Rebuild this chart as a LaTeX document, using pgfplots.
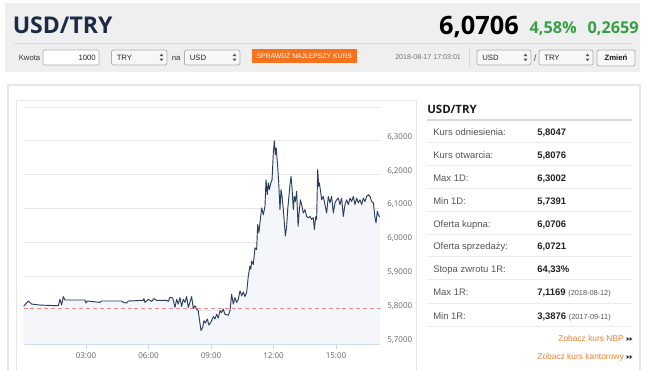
\documentclass[border=0pt]{standalone}
\usepackage{pgfplots}
\pgfplotsset{compat=1.18}
\usepackage{pgfplotstable}
\usepackage{fontspec}
\setmainfont{Liberation Sans}
\newfontfamily\os{Open Sans}
\definecolor{hdrbg}{HTML}{EFEFEF}
\definecolor{hdrline}{HTML}{DADADA}
\definecolor{navy}{HTML}{1C2A48}
\definecolor{upgreen}{HTML}{35A043}
\definecolor{orangebtn}{HTML}{F5731F}
\definecolor{linkor}{HTML}{F07F2F}
\definecolor{gridcol}{HTML}{E6E6E6}
\definecolor{axiscol}{HTML}{CCD6EB}
\definecolor{tickcol}{HTML}{666666}
\definecolor{linecol}{HTML}{2B3D5B}
\definecolor{fillcol}{HTML}{F4F6F9}
\definecolor{refred}{HTML}{F08A8A}
\definecolor{panelborder}{HTML}{E6E6E6}
\definecolor{rowline}{HTML}{EBEBEB}
\definecolor{labcol}{HTML}{555555}
\definecolor{valcol}{HTML}{222222}
\definecolor{selbg}{HTML}{F7F7F7}
\definecolor{selborder}{HTML}{AFAFAF}

\pgfplotstableread{
t v
0.00 5.811
0.23 5.827
0.39 5.818
0.79 5.815
1.67 5.813
1.75 5.832
1.83 5.815
1.91 5.840
1.99 5.830
2.95 5.830
3.00 5.821
3.06 5.827
3.67 5.823
3.75 5.827
4.71 5.827
4.79 5.823
4.95 5.821
5.03 5.827
5.75 5.829
5.78 5.834
5.83 5.823
5.99 5.832
6.15 5.826
6.26 5.834
6.39 5.829
6.87 5.829
6.95 5.826
7.03 5.838
7.16 5.836
7.27 5.808
7.35 5.832
7.43 5.818
7.51 5.837
7.59 5.811
7.67 5.832
7.75 5.823
7.83 5.840
7.91 5.808
7.99 5.824
8.07 5.840
8.15 5.805
8.23 5.813
8.31 5.803
8.39 5.798
8.44 5.774
8.52 5.740
8.60 5.749
8.66 5.769
8.73 5.762
8.82 5.774
8.90 5.756
8.99 5.764
9.11 5.781
9.19 5.774
9.27 5.788
9.35 5.777
9.43 5.798
9.51 5.793
9.59 5.803
9.67 5.788
9.83 5.785
9.91 5.798
9.99 5.847
10.07 5.818
10.15 5.837
10.23 5.823
10.31 5.832
10.39 5.857
10.47 5.842
10.55 5.854
10.63 5.840
10.71 5.852
10.79 5.901
10.87 5.930
10.91 5.921
10.95 5.945
11.03 5.935
11.11 5.984
11.19 5.979
11.24 6.053
11.30 6.029
11.35 6.058
11.43 6.102
11.51 6.082
11.59 6.107
11.64 6.185
11.70 6.141
11.75 6.176
11.80 6.156
11.87 6.176
11.93 6.185
11.99 6.264
12.04 6.300
12.09 6.259
12.13 6.279
12.20 6.224
12.25 6.176
12.31 6.097
12.36 6.156
12.41 6.136
12.47 6.097
12.52 6.058
12.57 6.019
12.63 6.048
12.68 6.097
12.74 6.136
12.79 6.171
12.84 6.195
12.89 6.161
12.95 6.097
13.00 6.136
13.05 6.121
13.11 6.151
13.18 6.048
13.22 6.082
13.29 6.126
13.35 6.112
13.43 6.087
13.51 6.097
13.59 6.077
13.67 6.073
13.75 6.077
13.83 6.068
13.91 6.073
13.96 6.038
14.03 6.077
14.07 6.068
14.12 6.215
14.17 6.166
14.20 6.176
14.27 6.146
14.31 6.126
14.39 6.136
14.47 6.112
14.55 6.087
14.63 6.136
14.71 6.117
14.79 6.136
14.87 6.087
14.95 6.117
15.03 6.126
15.11 6.131
15.19 6.112
15.27 6.131
15.35 6.077
15.43 6.112
15.51 6.126
15.59 6.112
15.67 6.131
15.75 6.121
15.83 6.136
15.91 6.112
15.99 6.131
16.07 6.117
16.15 6.126
16.23 6.112
16.31 6.131
16.39 6.121
16.47 6.136
16.55 6.141
16.63 6.136
16.71 6.121
16.79 6.117
16.87 6.073
16.92 6.058
16.98 6.092
17.03 6.082
17.10 6.075
}\rates

\newcommand\fs[1]{\fontsize{#1}{#1}\selectfont}
\newcommand\selbox[3]{% x1 x2 text
  \draw[selborder, fill=selbg, rounded corners=1.5, line width=0.6] (#1,50) rectangle (#2,65);
  \node[anchor=base west, inner sep=0, text=black!85] at ({#1+5},60) {\fs{5.8pt}#3};
  \fill[black!65] ({#2-7.5},56.2) -- ({#2-5.5},53.6) -- ({#2-3.5},56.2) -- cycle;
  \fill[black!65] ({#2-7.5},58.6) -- ({#2-5.5},61.2) -- ({#2-3.5},58.6) -- cycle;
}
\newcommand\row[3]{%
  \node[anchor=base west, inner sep=0, text=labcol] at (433,#1) {\fs{7.1pt}#2};
  \node[anchor=base west, inner sep=0, text=valcol] at (537,#1) {\fs{7.1pt}#3};
}

\begin{document}
\begin{tikzpicture}
\begin{scope}[x=0.75pt,y=-0.75pt]
\path[use as bounding box, fill=white] (0,0) rectangle (645,369);
\clip (0,0) rectangle (645,369);
% ---------- header ----------
\fill[hdrbg] (5,3) rectangle (640,72);
\draw[hdrline, line width=0.75] (14,43.5) -- (632,43.5);
\node[anchor=base west, inner sep=0, text=navy] at (12.5,33) {\os\bfseries\fs{17.3pt}USD/TRY};
\node[anchor=base east, inner sep=0, text=black] at (519,34) {\os\bfseries\fs{19pt}6,0706};
\node[anchor=base east, inner sep=0, text=upgreen] at (577,33) {\os\bfseries\fs{12.2pt}4,58\%};
\node[anchor=base east, inner sep=0, text=upgreen] at (639,33) {\os\bfseries\fs{12.2pt}0,2659};
% controls
\node[anchor=base west, inner sep=0, text=black!80] at (18.5,60) {\fs{5.8pt}Kwota};
\draw[selborder, fill=white, rounded corners=1, line width=0.6] (43,50) rectangle (99,65);
\node[anchor=base east, inner sep=0, text=black!85] at (96,60) {\fs{5.8pt}1000};
\selbox{111.5}{167}{TRY}
\node[anchor=base west, inner sep=0, text=black!80] at (171.5,60) {\fs{5.8pt}na};
\selbox{184.5}{240}{USD}
\fill[orangebtn] (251.5,49.3) rectangle (357,62.5);
\node[inner sep=0, text=white] at (304.3,56) {\fs{5.1pt}SPRAWDŹ NAJLEPSZY KURS};
\node[anchor=base west, inner sep=0, text=black!55] at (395,59) {\fs{5.3pt}2018-08-17 17:03:01};
\draw[hdrline, line width=0.75] (469.5,47) -- (469.5,68);
\selbox{477}{531}{USD}
\node[anchor=base west, inner sep=0, text=black!70] at (533.5,61) {\fs{7pt}/};
\selbox{539}{593}{TRY}
\draw[selborder, fill=selbg, rounded corners=1.5, line width=0.6] (597,50) rectangle (635,66);
\node[inner sep=0, text=black!90] at (616,58) {\fs{5.8pt}\bfseries Zmień};
% ---------- panels ----------
\draw[panelborder, line width=1.5] (8,85) rectangle (640,390);
\draw[panelborder, line width=0.75] (16.7,100) rectangle (416.5,390);
% ---------- right table ----------
\node[anchor=base west, inner sep=0, text=black!90] at (427,113) {\os\bfseries\fs{8.6pt}USD/TRY};
\draw[black!15, line width=1.5] (427,120) -- (632,120);
\foreach \yy in {142.7,165.7,188.5,211.5,234,256.5,279.5,303,326.7} {
  \draw[rowline, line width=0.75] (427,\yy) -- (632,\yy);
}
\row{135}{Kurs odniesienia:}{\bfseries 5,8047}
\row{158}{Kurs otwarcia:}{\bfseries 5,8076}
\row{181}{Max 1D:}{\bfseries 6,3002}
\row{204}{Min 1D:}{\bfseries 5,7391}
\row{227}{Oferta kupna:}{\bfseries 6,0706}
\row{249.5}{Oferta sprzedaży:}{\bfseries 6,0721}
\row{272}{Stopa zwrotu 1R:}{\bfseries 64,33\%}
\row{295}{Max 1R:}{\textbf{7,1169} {\fs{5.5pt}\color{labcol}(2018-08-12)}}
\row{319}{Min 1R:}{\textbf{3,3876} {\fs{5.5pt}\color{labcol}(2017-09-11)}}
% links
\node[anchor=base east, inner sep=0, text=linkor] at (624,341.5) {\fs{6.3pt}Zobacz kurs NBP};
\node[anchor=base east, inner sep=0, text=linkor] at (624,359.5) {\fs{6.3pt}Zobacz kurs kantorowy};
\foreach \yy in {339,357} {
  \fill[black!80] (626.5,\yy-2) -- (629.3,\yy) -- (626.5,\yy+2) -- cycle;
  \fill[black!80] (629.6,\yy-2) -- (632.4,\yy) -- (629.6,\yy+2) -- cycle;
}
\end{scope}
% ---------- chart ----------
\begin{axis}[
  at={(17.625pt,-258pt)}, anchor=south west,
  scale only axis, width=267.2pt, height=177.75pt,
  xmin=0, xmax=17.1, ymin=5.7, ymax=6.4,
  axis x line*=bottom, axis y line*=right,
  x axis line style={draw=axiscol, line width=0.75pt, -},
  y axis line style={draw=none},
  xtick={3,6,9,12,15},
  xticklabels={03:00,06:00,09:00,12:00,15:00},
  ytick={5.7,5.8,5.9,6.0,6.1,6.2,6.3,6.4},
  yticklabels={5{,}7000,5{,}8000,5{,}9000,6{,}0000,6{,}1000,6{,}2000,6{,}3000,{}},
  ymajorgrids, grid style={gridcol, line width=0.75pt},
  xtick style={draw=axiscol, line width=0.75pt},
  ytick style={draw=none},
  tick align=outside, major tick length=3.5pt,
  tick label style={font=\os\fs{6pt}, text=tickcol},
  yticklabel style={anchor=west, inner sep=0pt, xshift=2pt, yshift=3pt},
  xticklabel style={inner sep=0pt, yshift=-2.5pt},
]
\addplot[fill=fillcol, draw=none] table[x=t, y=v] {\rates} \closedcycle;
\addplot[refred, line width=0.75pt, dash pattern=on 3pt off 2.2pt] coordinates {(0,5.8047) (17.1,5.8047)};
\addplot[linecol, line width=0.7pt, line join=round] table[x=t, y=v] {\rates};
\end{axis}
\end{tikzpicture}
\end{document}
